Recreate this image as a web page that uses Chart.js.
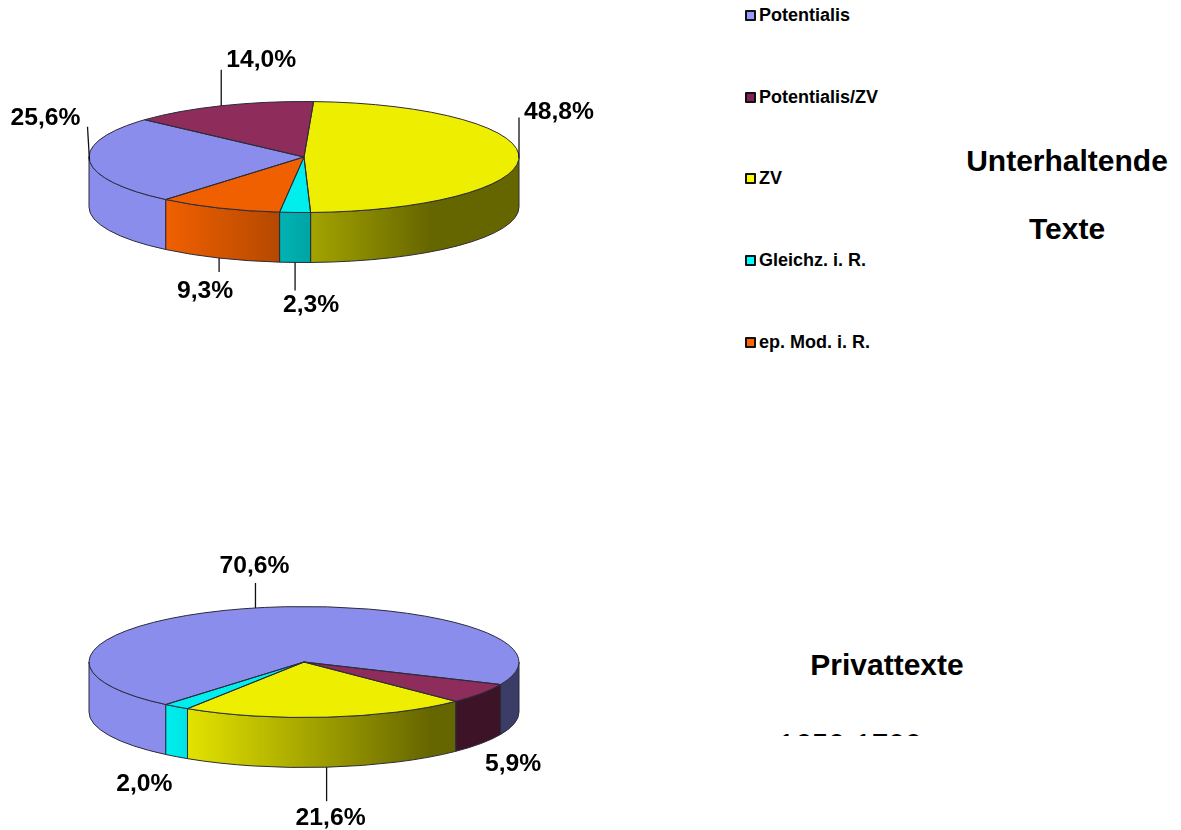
<!DOCTYPE html>
<html>
<head>
<meta charset="utf-8">
<title>Unterhaltende Texte / Privattexte</title>
<script src="https://cdn.jsdelivr.net/npm/chart.js@4"></script>
<style>
html, body { margin: 0; padding: 0; background: #fff; width: 1181px; height: 830px; overflow: hidden; }
body { position: relative; font-family: "Liberation Sans", Arial, sans-serif; color: #000; }
canvas { position: absolute; }
.chart-box { position: absolute; left: 0; width: 608px; }
.legend-item { position: absolute; left: 745px; height: 20px; font-weight: bold; font-size: 18px; line-height: 20px; white-space: nowrap; }
.legend-item i { position: absolute; left: 0; top: 4px; width: 7px; height: 7px; border: 2px solid #111; border-radius: 1px; }
.legend-item span { position: absolute; left: 14px; top: -1px; }
.title { position: absolute; font-weight: bold; font-size: 30px; line-height: 34px; white-space: nowrap; transform: translateX(-50%); }
.clipped { position: absolute; left: 740px; top: 700px; width: 294px; height: 36px; overflow: hidden; }
.clipped div { position: absolute; left: 0; width: 220px; top: 27px; text-align: center; font-size: 30px; line-height: 34px; white-space: nowrap; }
</style>
</head>
<body>
<div class="chart-box" style="top:0;height:330px"><canvas id="chartTexte"></canvas></div>
<div class="chart-box" style="top:494px;height:336px"><canvas id="chartPrivat"></canvas></div>
<div id="legend"></div>
<div class="title" style="left:1067px;top:144px">Unterhaltende</div>
<div class="title" style="left:1067px;top:212px">Texte</div>
<div class="title" style="left:887px;top:648px">Privattexte</div>
<div class="clipped"><div>1650-1700</div></div>
<script>
const categories = ["Potentialis", "Potentialis/ZV", "ZV", "Gleichz. i. R.", "ep. Mod. i. R."];
const colors = ["#8b8ded", "#8e2c5c", "#eeee00", "#00eeee", "#f06000"];
const legendSwatch = ["#9999ff", "#7f2459", "#ffff00", "#00ffff", "#ff6600"];
const legendTops = [6, 88, 169, 251, 333];

const valuesTexte = [25.6, 14.0, 48.8, 2.3, 9.3];
const valuesPrivat = [70.6, 5.9, 21.6, 2.0];

// leader line and text offset from the slice's rim point: [lineDx, lineDy, textDx, textDy]
const labelsTexte = [[-2, -34, -44, -43], [0, -36, 40, -46], [0, -40, 40, -45], [0, 28, 16, 43], [0, 14, -14, 33]];
const labelsPrivat = [[0, -25, -1, -42], [0, 0, 32, 21], [0, 34, 4, 51], [0, 0, -32, 28]];

const RADIUS = 215;
const SQUASH = 55.5 / 215;
const DEPTH = 50;
const OUTLINE = "#2b2b3a";

function shade(hex, f) {
    const n = parseInt(hex.slice(1), 16);
    const r = Math.round((n >> 16) * f), g = Math.round(((n >> 8) & 255) * f), b = Math.round((n & 255) * f);
    return `rgb(${r},${g},${b})`;
}

function rimPoint(arc, angle, drop) {
    return [arc.x + Math.cos(angle) * RADIUS, arc.y + Math.sin(angle) * RADIUS * SQUASH + drop];
}

function wallPath(ctx, arc, a0, a1) {
    ctx.beginPath();
    ctx.ellipse(arc.x, arc.y, RADIUS, RADIUS * SQUASH, 0, a0, a1);
    ctx.ellipse(arc.x, arc.y + DEPTH, RADIUS, RADIUS * SQUASH, 0, a1, a0, true);
    ctx.closePath();
}

// the part of a slice that faces the viewer (canvas angles 0..PI, also after a full turn)
function frontParts(arc) {
    const parts = [];
    for (const k of [-2, 0, 2]) {
        const a0 = Math.max(arc.startAngle, k * Math.PI);
        const a1 = Math.min(arc.endAngle, (k + 1) * Math.PI);
        if (a1 > a0) parts.push([a0, a1]);
    }
    return parts;
}

const pie3d = {
    id: "pie3d",
    beforeDatasetsDraw(chart) {
        const ctx = chart.ctx;
        const arcs = chart.getDatasetMeta(0).data;
        ctx.save();
        arcs.forEach((arc, i) => {
            frontParts(arc).forEach(([a0, a1]) => {
                const grad = ctx.createLinearGradient(arc.x - 138, 0, arc.x + 126, 0);
                grad.addColorStop(0, colors[i]);
                grad.addColorStop(1, shade(colors[i], 0.43));
                wallPath(ctx, arc, a0, a1);
                ctx.fillStyle = grad;
                ctx.fill();
                ctx.strokeStyle = OUTLINE;
                ctx.lineWidth = 1;
                ctx.stroke();
            });
        });
        ctx.restore();
        // squash the pie the library is about to draw
        const c = arcs[0];
        ctx.save();
        ctx.translate(c.x, c.y);
        ctx.scale(1, SQUASH);
        ctx.translate(-c.x, -c.y);
    },
    afterDatasetsDraw(chart) {
        const ctx = chart.ctx;
        ctx.restore();
        const arcs = chart.getDatasetMeta(0).data;
        const labels = chart.options.plugins.pie3d.labels;
        ctx.save();
        ctx.strokeStyle = OUTLINE;
        ctx.lineWidth = 1;
        arcs.forEach(arc => {
            ctx.beginPath();
            ctx.moveTo(arc.x, arc.y);
            ctx.ellipse(arc.x, arc.y, RADIUS, RADIUS * SQUASH, 0, arc.startAngle, arc.endAngle);
            ctx.closePath();
            ctx.stroke();
        });
        // value labels with leader lines
        ctx.font = "bold 24.7px 'Liberation Sans', Arial, sans-serif";
        ctx.fillStyle = "#000";
        ctx.textAlign = "center";
        ctx.textBaseline = "middle";
        ctx.strokeStyle = "#111";
        ctx.lineWidth = 1.3;
        arcs.forEach((arc, i) => {
            const mid = (arc.startAngle + arc.endAngle) / 2;
            const drop = Math.sin(mid) > 0.2 ? DEPTH : 0;
            const [x, y] = rimPoint(arc, mid, drop);
            const [lx, ly, tx, ty] = labels[i];
            if (lx || ly) {
                ctx.beginPath();
                ctx.moveTo(x, y);
                ctx.lineTo(x + lx, y + ly);
                ctx.stroke();
            }
            const text = chart.data.datasets[0].data[i].toFixed(1).replace(".", ",") + "%";
            ctx.fillText(text, x + tx, y + ty);
        });
        ctx.restore();
    }
};

function makePie(id, values, labels, bottomPad) {
    new Chart(document.getElementById(id), {
        type: "pie",
        data: {
            labels: categories.slice(0, values.length),
            datasets: [{
                data: values,
                backgroundColor: colors,
                borderWidth: 0,
                radius: RADIUS,
                clip: false
            }]
        },
        options: {
            responsive: true,
            maintainAspectRatio: false,
            animation: false,
            rotation: 220,
            layout: { padding: { bottom: bottomPad } },
            plugins: {
                legend: { display: false },
                tooltip: { enabled: false },
                pie3d: { labels: labels }
            }
        },
        plugins: [pie3d]
    });
}

makePie("chartTexte", valuesTexte, labelsTexte, 16);
makePie("chartPrivat", valuesPrivat, labelsPrivat, 0);

// legend
const legend = document.getElementById("legend");
categories.forEach((name, i) => {
    const item = document.createElement("div");
    item.className = "legend-item";
    item.style.top = legendTops[i] + "px";
    item.innerHTML = `<i style="background:${legendSwatch[i]}"></i><span>${name}</span>`;
    legend.appendChild(item);
});
</script>
</body>
</html>
